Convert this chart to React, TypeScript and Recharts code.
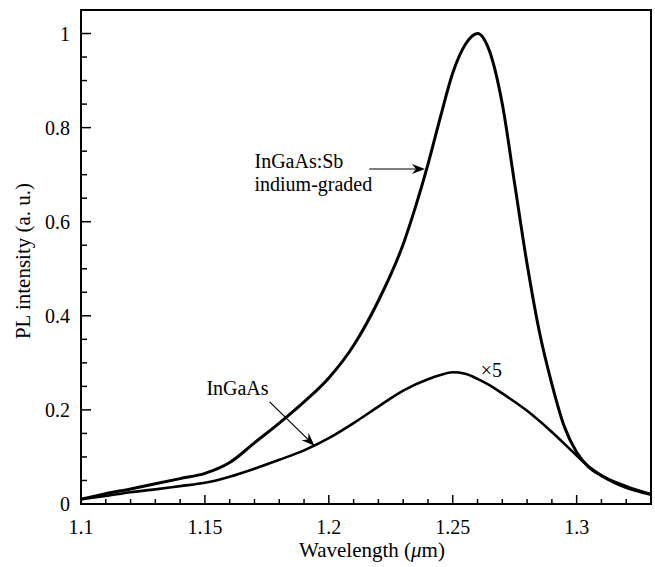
import React from 'react';
import { LineChart, Line, XAxis, YAxis, ReferenceArea, ReferenceLine, ReferenceDot } from 'recharts';

// InGaAs:Sb indium-graded sample
const sbWavelength = [1.1, 1.11, 1.12, 1.13, 1.14, 1.15, 1.16, 1.17, 1.18, 1.19, 1.2, 1.21, 1.22, 1.23, 1.235, 1.24, 1.245, 1.25, 1.255, 1.26, 1.265, 1.27, 1.275, 1.28, 1.285, 1.29, 1.295, 1.3, 1.305, 1.31, 1.315, 1.32, 1.325, 1.33];
const sbIntensity = [0.01, 0.022, 0.032, 0.043, 0.054, 0.065, 0.088, 0.13, 0.172, 0.217, 0.268, 0.337, 0.432, 0.552, 0.632, 0.722, 0.822, 0.916, 0.976, 1.0, 0.96, 0.85, 0.68, 0.51, 0.365, 0.255, 0.165, 0.11, 0.078, 0.06, 0.046, 0.035, 0.027, 0.02];

// InGaAs reference sample (x5)
const gaWavelength = [1.1, 1.11, 1.12, 1.13, 1.14, 1.15, 1.16, 1.17, 1.18, 1.19, 1.2, 1.21, 1.22, 1.23, 1.24, 1.245, 1.25, 1.255, 1.26, 1.265, 1.27, 1.28, 1.29, 1.3, 1.305, 1.31, 1.32, 1.33];
const gaIntensity = [0.01, 0.017, 0.025, 0.031, 0.038, 0.045, 0.058, 0.075, 0.094, 0.114, 0.14, 0.172, 0.207, 0.241, 0.265, 0.274, 0.28, 0.277, 0.266, 0.252, 0.235, 0.198, 0.153, 0.103, 0.079, 0.061, 0.038, 0.021];

const xTicks = [1.1, 1.11, 1.12, 1.13, 1.14, 1.15, 1.16, 1.17, 1.18, 1.19, 1.2, 1.21, 1.22, 1.23, 1.24, 1.25, 1.26, 1.27, 1.28, 1.29, 1.3, 1.31, 1.32, 1.33];
const xMajor = [1.1, 1.15, 1.2, 1.25, 1.3];
const yTicks = [0, 0.05, 0.1, 0.15, 0.2, 0.25, 0.3, 0.35, 0.4, 0.45, 0.5, 0.55, 0.6, 0.65, 0.7, 0.75, 0.8, 0.85, 0.9, 0.95, 1];
const yMajor = [0, 0.2, 0.4, 0.6, 0.8, 1];

const sbData = sbWavelength.map((w, i) => ({ w, v: sbIntensity[i] }));
const gaData = gaWavelength.map((w, i) => ({ w, v: gaIntensity[i] }));

const txt = { fontFamily: "'Liberation Serif', 'Times New Roman', 'DejaVu Serif', serif", fill: '#000' };
const isMajor = (list: number[], v: number) => list.some((m) => Math.abs(m - v) < 1e-9);

const XTick = (props: any) => {
  const { x, y, payload } = props;
  const major = isMajor(xMajor, payload.value);
  return (
    <g>
      <line x1={x} x2={x} y1={y} y2={y - (major ? 9 : 5)} stroke="#000" strokeWidth={1.5} />
      {major && (
        <text x={x} y={y + 30} textAnchor="middle" style={{ ...txt, fontSize: 20 }}>
          {String(payload.value)}
        </text>
      )}
    </g>
  );
};

const YTick = (props: any) => {
  const { x, y, payload } = props;
  const major = isMajor(yMajor, payload.value);
  return (
    <g>
      <line x1={x} x2={x + (major ? 10 : 6)} y1={y} y2={y} stroke="#000" strokeWidth={1.5} />
      {major && (
        <text x={x - 11} y={y + 7} textAnchor="end" style={{ ...txt, fontSize: 20 }}>
          {String(payload.value)}
        </text>
      )}
    </g>
  );
};

const Arrow = (props: any) => {
  const { x1, y1, x2, y2 } = props;
  const ang = Math.atan2(y2 - y1, x2 - x1);
  const c = Math.cos(ang);
  const s = Math.sin(ang);
  const bx = x2 - 13 * c;
  const by = y2 - 13 * s;
  const px = -s * 5;
  const py = c * 5;
  return (
    <g>
      <line x1={x1} y1={y1} x2={bx + 4 * c} y2={by + 4 * s} stroke="#000" strokeWidth={1.2} />
      <polygon points={`${x2},${y2} ${bx + px},${by + py} ${bx + 4 * c},${by + 4 * s} ${bx - px},${by - py}`} fill="#000" />
    </g>
  );
};

const textShape = (lines: string[]) => (props: any) => (
  <text x={props.cx} y={props.cy} style={{ ...txt, fontSize: 20 }}>
    {lines.map((l, i) => (
      <tspan key={i} x={props.cx} dy={i === 0 ? 0 : 23}>
        {l}
      </tspan>
    ))}
  </text>
);

export default function App() {
  return (
    <div style={{ position: 'absolute', left: 0, top: 0, background: '#fff' }}>
      <LineChart width={655} height={567} margin={{ top: 10, right: 4, left: 0, bottom: 0 }}>
        <XAxis
          dataKey="w"
          type="number"
          domain={[1.1, 1.33]}
          ticks={xTicks}
          interval={0}
          allowDataOverflow
          axisLine={false}
          tickLine={false}
          tickSize={0}
          tickMargin={0}
          height={63}
          tick={<XTick />}
          label={{
            content: (p: any) => {
              const vb = p.viewBox;
              return (
                <text x={vb.x + vb.width / 2 + 6} y={vb.y + 53} textAnchor="middle" style={{ ...txt, fontSize: 21 }}>
                  Wavelength (<tspan fontStyle="italic">μ</tspan>m)
                </text>
              );
            },
          }}
        />
        <YAxis
          type="number"
          domain={[0, 1.05]}
          ticks={yTicks}
          interval={0}
          allowDataOverflow
          axisLine={false}
          tickLine={false}
          tickSize={0}
          tickMargin={0}
          width={81}
          tick={<YTick />}
          label={{
            content: (p: any) => {
              const vb = p.viewBox;
              const cx = vb.x + 30;
              const cy = vb.y + vb.height / 2 + 4;
              return (
                <text x={cx} y={cy} transform={`rotate(-90, ${cx}, ${cy})`} textAnchor="middle" style={{ ...txt, fontSize: 21 }}>
                  PL intensity (a. u.)
                </text>
              );
            },
          }}
        />
        <ReferenceArea x1={1.1} x2={1.33} y1={0} y2={1.05} fill="none" stroke="#000" strokeWidth={2} fillOpacity={0} />
        <Line data={sbData} dataKey="v" type="monotone" stroke="#000" strokeWidth={3} dot={false} isAnimationActive={false} />
        <Line data={gaData} dataKey="v" type="monotone" stroke="#000" strokeWidth={2.6} dot={false} isAnimationActive={false} />
        <ReferenceLine segment={[{ x: 1.2163, y: 0.712 }, { x: 1.2388, y: 0.712 }]} shape={<Arrow />} />
        <ReferenceLine segment={[{ x: 1.1761, y: 0.217 }, { x: 1.1942, y: 0.124 }]} shape={<Arrow />} />
        <ReferenceDot x={1.17} y={0.715} r={0} shape={textShape(['InGaAs:Sb', 'indium-graded'])} />
        <ReferenceDot x={1.1506} y={0.231} r={0} shape={textShape(['InGaAs'])} />
        <ReferenceDot x={1.2613} y={0.27} r={0} shape={textShape(['×5'])} />
      </LineChart>
    </div>
  );
}
